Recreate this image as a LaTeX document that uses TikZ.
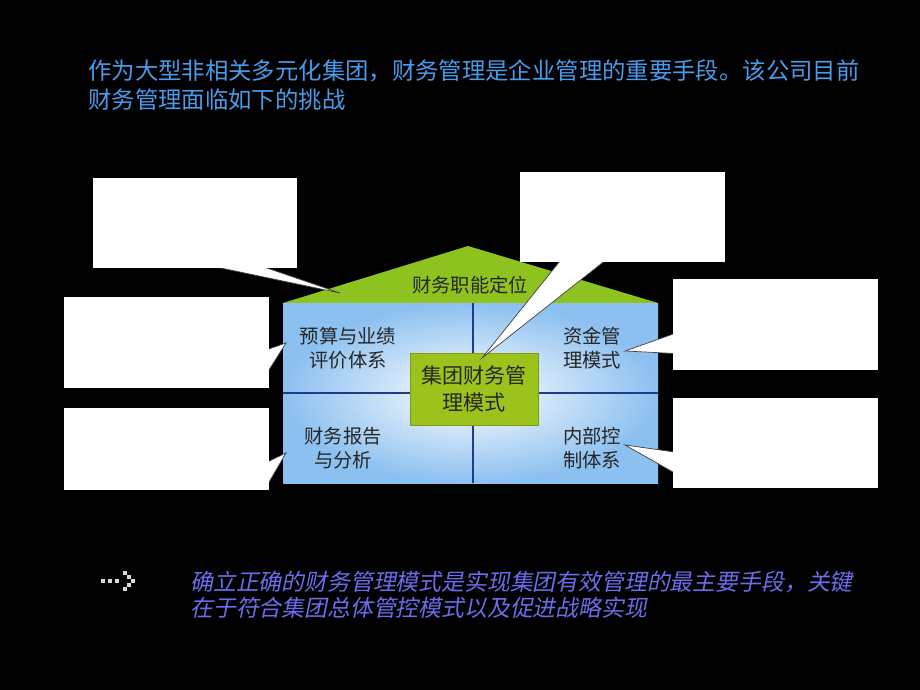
\documentclass[tikz,border=0pt]{standalone}
\usepackage{fontspec}
\usepackage{xcolor}
\usepackage{tikz}
\usetikzlibrary{positioning}
\usetikzlibrary{calc}
\newfontfamily\cjk{Noto Sans CJK SC}
\newfontfamily\cjkit[FakeSlant=0.2]{Noto Sans CJK SC}
\definecolor{titleblue}{HTML}{4A9BEA}
\definecolor{notepurple}{HTML}{6C6CEC}
\definecolor{roofgreen}{HTML}{8DC21F}
\definecolor{corebox}{HTML}{9CC31B}
\definecolor{wallblue}{HTML}{8CC0F0}
\definecolor{divider}{HTML}{1F3C8C}
\tikzset{
	callbox/.style={rectangle, fill=white, inner sep=0pt},
	pointer/.style={fill=white, draw=black!75, line width=0.4pt, line join=miter},
	roomtext/.style={font=\cjk\fontsize{11pt}{14pt}\selectfont, align=center, text=black!85},
	dotsq/.style={fill=black!15},
}
\begin{document}
\begin{tikzpicture}[x=0.02cm, y=-0.02cm]
	
	% page, pixel coordinates
	\fill[black] (0,0) rectangle (920,690);
	\useasboundingbox (0,0) rectangle (920,690);
	
	% heading
	\node[anchor=west, align=left, inner sep=0pt, text=titleblue, font=\cjk\fontsize{13.3pt}{17pt}\selectfont] (heading) at (88,85)
		{作为大型非相关多元化集团，财务管理是企业管理的重要手段。该公司目前\\财务管理面临如下的挑战};
	
	%%%%%%%%%%%%%%%%%%%%%%%%%%%%%%%%%%%%%%%%%%%%%%%%%%%%%%%%%%%%%%
	% the house
	\coordinate (RL) at (283,303);
	\coordinate (RT) at (468,246);
	\coordinate (RR) at (658,303);
	\coordinate (FL) at (283,483);
	\fill[roofgreen] (RL) -- (RT) -- (RR) -- cycle;
	\shade[inner color=white, outer color=wallblue] (RL) rectangle (658,483);
	\draw[divider, line width=1.2pt] (473,303) -- (473,483);
	\draw[divider, line width=1.2pt] (283,393) -- (658,393);
	
	\node[roomtext] (roof) at (470,285) {财务职能定位};
	\node[roomtext] (budget) at (348,348) {预算与业绩\\评价体系};
	\node[roomtext] (report) at (343,448) {财务报告\\与分析};
	\node[roomtext] (funds)  at (592,348) {资金管\\理模式};
	\node[roomtext] (control) at (592,448) {内部控\\制体系};
	
	\node[fill=corebox, draw=corebox!80!black, line width=0.3pt, minimum width=2.56cm, minimum height=1.44cm,
		roomtext, font=\cjk\fontsize{12pt}{15pt}\selectfont] (core) at (474,389) {集团财务管\\理模式};
	
	%%%%%%%%%%%%%%%%%%%%%%%%%%%%%%%%%%%%%%%%%%%%%%%%%%%%%%%%%%%%%%
	% callouts: tips first, then pointers, then the boxes on top
	\coordinate (tipA) at (340,293);
	\coordinate (tipB) at (286,343);
	\coordinate (tipC) at (286,453);
	\coordinate (tipD) at (482,358);
	\coordinate (tipE) at (625,351);
	\coordinate (tipF) at (625,445);
	
	\node[callbox, minimum width=4.08cm, minimum height=1.80cm] (noteA) at (195,223) {};
	\node[callbox, minimum width=4.10cm, minimum height=1.82cm] (noteB) at (166.5,342.5) {};
	\node[callbox, minimum width=4.10cm, minimum height=1.64cm] (noteC) at (166.5,449) {};
	\node[callbox, minimum width=4.10cm, minimum height=1.80cm] (noteD) at (622.5,217) {};
	\node[callbox, minimum width=4.10cm, minimum height=1.82cm] (noteE) at (775.5,324.5) {};
	\node[callbox, minimum width=4.10cm, minimum height=1.80cm] (noteF) at (775.5,443) {};
	
	\draw[pointer] ($(noteA.south)+(18,-2)$) -- (tipA) -- ($(noteA.south)+(67,-2)$);
	\draw[pointer] ($(noteB.east)+(-2,7)$) -- (tipB) -- ($(noteB.east)+(-2,30)$);
	\draw[pointer] ($(noteC.east)+(-2,13)$) -- (tipC) -- ($(noteC.east)+(-2,36)$);
	\draw[pointer] ($(noteD.south)+(-62,-2)$) -- (tipD) -- ($(noteD.south)+(-17,-2)$);
	\draw[pointer] ($(noteE.west)+(2,9)$) -- (tipE) -- ($(noteE.west)+(2,29)$);
	\draw[pointer] ($(noteF.west)+(2,9)$) -- (tipF) -- ($(noteF.west)+(2,30)$);
	
	% cover the pointer bases
	\foreach \n in {noteA,noteB,noteC,noteD,noteE,noteF}
		\fill[white] (\n.north west) rectangle (\n.south east);
	
	%%%%%%%%%%%%%%%%%%%%%%%%%%%%%%%%%%%%%%%%%%%%%%%%%%%%%%%%%%%%%%
	% bullet mark
	\foreach \px/\py in {103/581, 110/581, 117/581, 125/573, 129/577, 133/581, 129/585, 125/589}
		\fill[dotsq] (\px-2,\py-2) rectangle (\px+2,\py+2);
	
	% conclusion
	\node[anchor=west, align=left, inner sep=0pt, text=notepurple, font=\cjkit\fontsize{13pt}{14.8pt}\selectfont] (summary) at (190,595)
		{确立正确的财务管理模式是实现集团有效管理的最主要手段，关键\\在于符合集团总体管控模式以及促进战略实现};
	
\end{tikzpicture}
\end{document}
